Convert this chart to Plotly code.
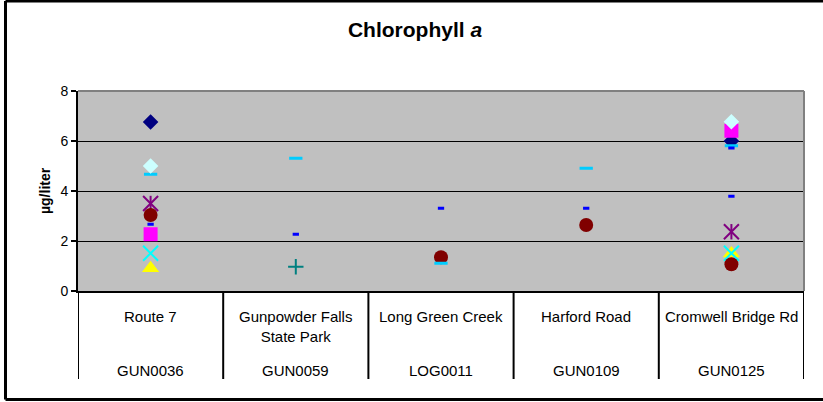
import plotly.graph_objects as go

# ---- data ----
sites = ["Route 7", "Gunpowder Falls<br>State Park", "Long Green Creek", "Harford Road", "Cromwell Bridge Rd"]
station_ids = ["GUN0036", "GUN0059", "LOG0011", "GUN0109", "GUN0125"]
y_ticks = [0, 2, 4, 6, 8]

s1 = [6.76, None, None, None, 6.00]
s2 = [2.27, None, None, None, 6.41]
s3 = [0.91, None, None, None, 1.50]
s4 = [1.51, None, None, None, 1.51]
s5 = [3.50, None, None, None, 2.37]
s6 = [3.04, None, 1.35, 2.64, 1.07]
s7 = [None, 0.97, None, None, None]
s8 = [2.67, 2.27, 3.31, 3.31, 3.79]
s9 = [4.67, 5.31, 1.11, 4.91, 5.81]
s10 = [5.00, None, None, None, 6.77]
s11 = [None, None, None, None, 5.72]

FONT = "Liberation Sans, Arial, sans-serif"

fig = go.Figure()

def add(name, vals, symbol, color, size, lw=0, filled=True):
    m = dict(symbol=symbol, size=size, color=color)
    if filled:
        m["line"] = dict(width=0)
    else:
        m["line"] = dict(width=lw, color=color)
    fig.add_trace(go.Scatter(x=sites, y=vals, mode="markers", name=name,
                             marker=m, showlegend=False, cliponaxis=False))

add("Series 1", s1, "diamond", "#000080", 12)
add("Series 2", s2, "square", "#FF00FF", 14)
add("Series 3", s3, "triangle-up", "#FFFF00", 15)
add("Series 4", s4, "x-thin-open", "#00FFFF", 15, lw=2, filled=False)
add("Series 5", s5, "x-thin-open", "#800080", 15, lw=2, filled=False)
add("Series 5 ", s5, "line-ns-open", "#800080", 11, lw=2, filled=False)
add("Series 6", s6, "circle", "#800000", 14)
add("Series 7", s7, "cross-thin-open", "#008080", 11, lw=2, filled=False)
add("Series 8", s8, "line-ew-open", "#0000FF", 4.5, lw=3, filled=False)
add("Series 9", s9, "line-ew-open", "#00CCFF", 9.5, lw=3, filled=False)
add("Series 10", s10, "diamond", "#CCFFFF", 12)
add("Series 11", s11, "line-ew-open", "#0000FF", 4.5, lw=3, filled=False)

W, H = 823, 402
L, R, T, B = 78, 804, 91, 291
pw, ph = R - L, B - T

def px_x(px):
    return (px - L) / pw

def px_y(py):
    return (B - py) / ph

shapes = []
# category separators
for i in range(len(sites) + 1):
    shapes.append(dict(type="line", xref="x", yref="paper", x0=i - 0.5, x1=i - 0.5,
                       y0=0, y1=px_y(379), line=dict(color="black", width=2)))
# plot-area top / right gray border
shapes.append(dict(type="line", xref="paper", yref="paper", x0=0, x1=1, y0=1, y1=1,
                   line=dict(color="#808080", width=2)))
shapes.append(dict(type="line", xref="paper", yref="paper", x0=1, x1=1, y0=0, y1=1,
                   line=dict(color="#808080", width=2)))
# chart outer border (left, top, bottom)
bx0, bx1, by0, by1 = px_x(5.5), px_x(W), px_y(399.5), px_y(1)
for (xa, ya, xb, yb) in [(bx0, by0, bx0, by1), (bx0, by1, bx1, by1), (bx0, by0, bx1, by0)]:
    shapes.append(dict(type="line", xref="paper", yref="paper", x0=xa, y0=ya, x1=xb, y1=yb,
                       line=dict(color="black", width=3)))

annotations = []
for i, (s, c) in enumerate(zip(sites, station_ids)):
    annotations.append(dict(x=s, y=px_y(306), xref="x", yref="paper", text=s,
                            showarrow=False, yanchor="top", xanchor="center",
                            font=dict(family=FONT, size=15, color="black")))
    annotations.append(dict(x=s, y=px_y(370), xref="x", yref="paper", text=c,
                            showarrow=False, yanchor="middle", xanchor="center",
                            font=dict(family=FONT, size=15, color="black")))
annotations.append(dict(x=px_x(45), y=0.5, xref="paper", yref="paper", text="<b>µg/liter</b>",
                        textangle=-90, showarrow=False, xanchor="center", yanchor="middle",
                        font=dict(family=FONT, size=14, color="black")))

fig.update_layout(
    width=W, height=H,
    margin=dict(l=L, r=W - R, t=T, b=H - B, pad=0),
    paper_bgcolor="white", plot_bgcolor="#C0C0C0",
    title=dict(text="<b>Chlorophyll <i>a</i></b>", x=415 / W, xref="container", xanchor="center",
               y=1 - 30 / H, yref="container", yanchor="middle",
               font=dict(family=FONT, size=21, color="black")),
    xaxis=dict(type="category", categoryorder="array", categoryarray=sites,
               range=[-0.5, len(sites) - 0.5], showticklabels=False, showgrid=False,
               zeroline=False, showline=True, linecolor="black", linewidth=2, ticks=""),
    yaxis=dict(range=[y_ticks[0], y_ticks[-1]], tickvals=y_ticks, ticks="outside", ticklen=5,
               tickwidth=2, tickcolor="black", showline=True, linecolor="black", linewidth=2,
               showgrid=True, gridcolor="black", gridwidth=1, zeroline=False,
               tickfont=dict(family=FONT, size=14, color="black")),
    shapes=shapes, annotations=annotations,
)

fig.write_html("out.html", config={"displayModeBar": False},
               post_script="document.body.style.margin='0';document.body.style.overflow='hidden';"
                           "document.documentElement.style.overflow='hidden';")
